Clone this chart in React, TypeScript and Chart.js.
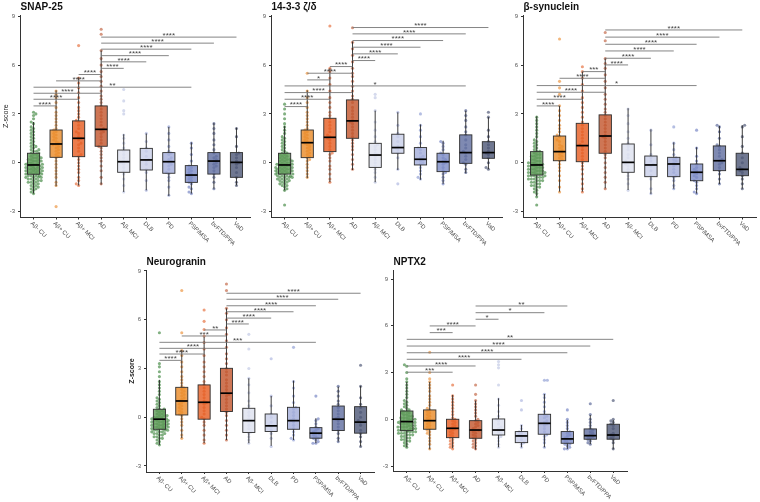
import { useEffect, useRef } from 'react';
import { Chart, registerables } from 'chart.js';

Chart.register(...registerables);
Chart.defaults.font.family = '"Liberation Sans", Arial, sans-serif';

const groups = ['Aβ- CU', 'Aβ+ CU', 'Aβ+ MCI', 'AD', 'Aβ- MCI', 'DLB', 'PD', 'PSP/MSA', 'bvFTD/PPA', 'VaD'];
const yTicks = [-3, 0, 3, 6, 9];

// ---------- SNAP-25 ----------
const snapMed = [-0.14, 1.15, 1.5, 2.05, 0.06, 0.17, 0.06, -0.76, 0.1, 0.02];
const snapQ1 = [-0.71, 0.33, 0.37, 1.01, -0.59, -0.45, -0.65, -1.21, -0.7, -0.9];
const snapQ3 = [0.58, 2.01, 2.57, 3.49, 0.78, 0.88, 0.62, -0.18, 0.62, 0.62];
const snapLo = [-1.9, -1.45, -1.4, -1.35, -1.8, -1.7, -2.05, -1.9, -1.6, -1.4];
const snapHi = [2.5, 4.45, 5.25, 6.9, 1.75, 1.8, 2.2, 1.25, 2.45, 2.15];
const snapPts: number[][] = [
  [-1.9, -1.8, -1.7, -1.6, -1.6, -1.5, -1.5, -1.4, -1.4, -1.3, -1.3, -1.2, -1.2, -1.2, -1.1, -1.1, -1.1, -1, -1, -1, -0.9, -0.9, -0.9, -0.9, -0.8, -0.8, -0.8, -0.8, -0.7, -0.7, -0.7, -0.7, -0.6, -0.6, -0.6, -0.6, -0.5, -0.5, -0.5, -0.5, -0.4, -0.4, -0.4, -0.4, -0.3, -0.3, -0.3, -0.3, -0.2, -0.2, -0.2, -0.1, -0.1, -0.1, -0.1, 0, 0, 0, 0.1, 0.1, 0.1, 0.2, 0.2, 0.2, 0.3, 0.3, 0.3, 0.4, 0.4, 0.5, 0.5, 0.6, 0.6, 0.7, 0.7, 0.8, 0.8, 0.9, 1, 1, 1.1, 1.2, 1.3, 1.4, 1.5, 1.6, 1.7, 1.8, 1.9, 2, 2.1, 2.2, 2.4, 2.5, 2.7, 2.9, 3, 3.1],
  [-2.7, -1.4, -1.2, -0.9, -0.7, -0.5, -0.3, -0.1, 0.1, 0.3, 0.4, 0.5, 0.6, 0.7, 0.8, 0.9, 1, 1.1, 1.1, 1.2, 1.3, 1.4, 1.5, 1.6, 1.7, 1.8, 1.9, 2, 2.1, 2.3, 2.5, 2.7, 2.9, 3.1, 3.4, 3.7, 4, 4.2, 4.4],
  [-1.4, -1.3, -1.1, -0.9, -0.6, -0.4, -0.2, 0, 0.2, 0.4, 0.5, 0.7, 0.9, 1.1, 1.2, 1.4, 1.5, 1.6, 1.8, 1.9, 2.1, 2.3, 2.5, 2.6, 2.8, 3, 3.2, 3.4, 3.7, 4, 4.3, 4.6, 4.9, 5.2, 7.2],
  [-1.3, -0.9, -0.5, -0.2, 0.1, 0.3, 0.5, 0.7, 0.9, 1, 1.2, 1.4, 1.6, 1.8, 1.9, 2, 2.1, 2.3, 2.5, 2.7, 2.9, 3.1, 3.3, 3.5, 3.7, 3.9, 4.1, 4.4, 4.7, 5, 5.3, 5.6, 6, 6.4, 6.9, 7.9, 8.2],
  [-1.8, -1.4, -1, -0.7, -0.5, -0.3, -0.1, 0, 0.1, 0.3, 0.5, 0.7, 0.9, 1.2, 1.5, 1.7, 3, 3.2, 3.8, 4.5],
  [-1.7, -1.1, -0.6, -0.4, -0.1, 0.1, 0.2, 0.4, 0.7, 0.9, 1.3, 1.8],
  [-2, -1.5, -1.1, -0.9, -0.7, -0.6, -0.4, -0.2, -0.1, 0, 0.1, 0.2, 0.3, 0.5, 0.6, 0.7, 1, 1.4, 1.8, 2.2],
  [-1.9, -1.8, -1.6, -1.5, -1.3, -1.2, -1.1, -1, -0.9, -0.8, -0.7, -0.6, -0.5, -0.4, -0.3, -0.2, 0.1, 0.5, 0.9, 1.2],
  [-1.6, -1.2, -0.9, -0.7, -0.5, -0.3, -0.2, -0.1, 0, 0.1, 0.2, 0.3, 0.4, 0.6, 0.8, 1.1, 1.4, 1.8, 2.1, 2.4],
  [-1.4, -1.2, -0.9, -0.6, -0.3, -0.1, 0, 0.1, 0.3, 0.5, 0.6, 1, 1.6, 2.1],
];
const snapSig: [number, number, number, string][] = [
  [1, 2, 3.49, '****'], [1, 3, 3.9, '****'], [1, 4, 4.27, '****'], [1, 8, 4.64, '**'],
  [2, 4, 5.03, '****'], [3, 4, 5.42, '****'], [4, 5, 5.8, '****'], [4, 6, 6.2, '****'],
  [4, 7, 6.58, '****'], [4, 8, 6.98, '****'], [4, 9, 7.35, '****'], [4, 10, 7.72, '****'],
];

// ---------- 14-3-3 ζ/δ ----------
const ywhaMed = [-0.14, 1.23, 1.56, 2.57, 0.47, 0.93, 0.21, 0.06, 0.62, 0.62];
const ywhaQ1 = [-0.7, 0.31, 0.68, 1.5, -0.29, 0.58, -0.14, -0.55, -0.04, 0.27];
const ywhaQ3 = [0.58, 2.01, 2.73, 3.86, 1.19, 1.75, 0.93, 0.58, 1.71, 1.29];
const ywhaLo = [-1.7, -0.95, -1.2, -0.45, -1.2, -0.45, -1.05, -1.3, -0.65, -0.4];
const ywhaHi = [2.25, 4.45, 5.8, 7.45, 3.2, 3.1, 2.35, 1.35, 3.2, 2.8];
const ywhaPts: number[][] = [
  [-2.6, -1.7, -1.6, -1.5, -1.4, -1.4, -1.3, -1.3, -1.2, -1.2, -1.1, -1.1, -1.1, -1, -1, -1, -0.9, -0.9, -0.9, -0.9, -0.8, -0.8, -0.8, -0.8, -0.7, -0.7, -0.7, -0.7, -0.6, -0.6, -0.6, -0.6, -0.5, -0.5, -0.5, -0.5, -0.4, -0.4, -0.4, -0.4, -0.3, -0.3, -0.3, -0.3, -0.2, -0.2, -0.2, -0.1, -0.1, -0.1, -0.1, 0, 0, 0, 0.1, 0.1, 0.1, 0.2, 0.2, 0.2, 0.3, 0.3, 0.4, 0.4, 0.5, 0.5, 0.6, 0.6, 0.7, 0.8, 0.9, 1, 1.1, 1.2, 1.3, 1.4, 1.5, 1.6, 1.8, 2, 2.2, 2.4, 2.7, 3, 3.3, 3.6],
  [-0.9, -0.7, -0.5, -0.3, -0.1, 0.1, 0.2, 0.3, 0.4, 0.5, 0.6, 0.7, 0.8, 0.9, 1, 1.1, 1.2, 1.2, 1.3, 1.4, 1.5, 1.6, 1.7, 1.8, 1.9, 2, 2.1, 2.3, 2.5, 2.7, 2.9, 3.1, 3.4, 3.7, 4, 4.4, 5.5],
  [-1.2, -1, -0.7, -0.4, -0.2, 0.1, 0.3, 0.5, 0.6, 0.8, 1, 1.2, 1.4, 1.5, 1.6, 1.7, 1.9, 2.1, 2.3, 2.5, 2.7, 2.9, 3.1, 3.4, 3.7, 4, 4.4, 4.8, 5.2, 5.6, 5.8, 8.4],
  [-0.4, -0.1, 0.2, 0.5, 0.8, 1, 1.2, 1.4, 1.6, 1.8, 2, 2.2, 2.4, 2.5, 2.6, 2.8, 3, 3.2, 3.4, 3.7, 3.9, 4.1, 4.4, 4.7, 5, 5.3, 5.5, 5.8, 6.2, 6.6, 7, 7.4, 8.3],
  [-1.2, -0.9, -0.6, -0.4, -0.2, 0, 0.2, 0.4, 0.5, 0.6, 0.8, 1, 1.1, 1.3, 1.6, 2, 2.5, 3.2, 4, 4.2],
  [-1.3, -0.4, 0.3, 0.6, 0.8, 0.9, 1, 1.3, 1.6, 1.8, 2.3, 3.1],
  [-1, -0.9, -0.7, -0.5, -0.3, -0.1, 0, 0.1, 0.2, 0.3, 0.4, 0.6, 0.8, 0.9, 1.2, 1.6, 2, 2.3, 3],
  [-1.3, -1.1, -0.9, -0.7, -0.6, -0.5, -0.3, -0.1, 0, 0.1, 0.2, 0.3, 0.5, 0.6, 0.8, 1, 1.2, 1.3],
  [-0.6, -0.4, -0.1, 0, 0.2, 0.4, 0.6, 0.7, 0.9, 1.1, 1.4, 1.7, 1.9, 2.2, 2.6, 2.9, 3.2],
  [-0.4, -0.3, 0, 0.3, 0.5, 0.6, 0.7, 0.9, 1.1, 1.3, 1.6, 2, 2.8, 3.1],
];
const ywhaSig: [number, number, number, string][] = [
  [1, 2, 3.45, '****'], [1, 3, 3.9, '****'], [1, 4, 4.31, '****'], [1, 9, 4.72, '*'],
  [2, 3, 5.09, '*'], [2, 4, 5.5, '****'], [3, 4, 5.91, '****'], [4, 5, 6.28, '****'],
  [4, 6, 6.69, '****'], [4, 7, 7.1, '****'], [4, 8, 7.51, '****'], [4, 9, 7.92, '****'], [4, 10, 8.31, '****'],
];

// ---------- β-synuclein ----------
const bsynMed = [-0.14, 0.68, 1.05, 1.64, 0.02, -0.14, -0.08, -0.59, 0.12, -0.41];
const bsynQ1 = [-0.76, 0.12, 0.06, 0.58, -0.59, -0.86, -0.86, -1.11, -0.49, -0.8];
const bsynQ3 = [0.68, 1.64, 2.42, 2.94, 1.15, 0.41, 0.33, -0.08, 1.03, 0.58];
const bsynLo = [-2.07, -1.78, -1.78, -1.58, -1.68, -1.93, -1.6, -1.9, -1.31, -1.6];
const bsynHi = [2.85, 3.49, 5.6, 6.42, 3.35, 2.05, 1.25, 0.95, 2.26, 2.3];
const bsynPts: number[][] = [
  [-2.6, -2.1, -1.9, -1.8, -1.7, -1.6, -1.5, -1.5, -1.4, -1.4, -1.3, -1.3, -1.2, -1.2, -1.1, -1.1, -1.1, -1, -1, -1, -0.9, -0.9, -0.9, -0.8, -0.8, -0.8, -0.8, -0.7, -0.7, -0.7, -0.6, -0.6, -0.6, -0.6, -0.5, -0.5, -0.5, -0.4, -0.4, -0.4, -0.3, -0.3, -0.3, -0.2, -0.2, -0.2, -0.1, -0.1, -0.1, 0, 0, 0, 0.1, 0.1, 0.2, 0.2, 0.3, 0.3, 0.4, 0.4, 0.5, 0.5, 0.6, 0.7, 0.7, 0.8, 0.9, 1, 1.1, 1.2, 1.3, 1.4, 1.6, 1.8, 2, 2.2, 2.4, 2.6, 2.8],
  [-1.8, -1.5, -1.1, -0.8, -0.5, -0.3, -0.1, 0.1, 0.2, 0.3, 0.4, 0.5, 0.6, 0.7, 0.8, 0.9, 1, 1.1, 1.3, 1.4, 1.6, 1.7, 1.9, 2.1, 2.3, 2.6, 2.9, 3.2, 3.5, 4.2, 4.6, 5, 7.6],
  [-1.8, -1.6, -1.3, -1, -0.7, -0.4, -0.2, 0, 0.2, 0.4, 0.6, 0.8, 1, 1.1, 1.3, 1.5, 1.7, 1.9, 2.1, 2.3, 2.5, 2.8, 3.1, 3.4, 3.7, 4, 4.4, 4.8, 5.2, 5.6, 5.9],
  [-1.6, -1.2, -0.9, -0.6, -0.3, 0, 0.3, 0.5, 0.7, 0.9, 1.1, 1.3, 1.5, 1.6, 1.7, 1.9, 2.1, 2.3, 2.5, 2.7, 2.9, 3.1, 3.3, 3.6, 3.9, 4.2, 4.6, 5, 5.4, 5.8, 6.1, 6.4, 7.5, 8],
  [-1.7, -1.3, -1, -0.8, -0.6, -0.4, -0.2, -0.1, 0, 0.1, 0.3, 0.5, 0.8, 1, 1.2, 1.5, 1.9, 2.4, 2.9, 3.3],
  [-1.9, -1.6, -1, -0.8, -0.5, -0.2, -0.1, 0.1, 0.3, 0.5, 1.1, 2],
  [-1.6, -1.4, -1.1, -0.9, -0.8, -0.6, -0.4, -0.2, -0.1, 0, 0.1, 0.2, 0.3, 0.5, 0.8, 1.2, 2.2],
  [-1.9, -1.8, -1.6, -1.4, -1.2, -1.1, -0.9, -0.8, -0.7, -0.6, -0.5, -0.4, -0.3, -0.1, 0.1, 0.4, 0.9, 2],
  [-1.3, -1, -0.7, -0.5, -0.3, -0.1, 0, 0.1, 0.2, 0.4, 0.6, 0.8, 1, 1.1, 1.5, 1.9, 2.2, 2.3],
  [-1.6, -1.3, -1, -0.8, -0.6, -0.5, -0.4, -0.3, 0, 0.3, 0.6, 1, 1.6, 2.2, 2.3],
];
const bsynSig: [number, number, number, string][] = [
  [1, 2, 3.49, '****'], [1, 3, 3.9, '****'], [1, 4, 4.33, '****'], [1, 8, 4.74, '*'],
  [2, 4, 5.19, '****'], [3, 4, 5.6, '***'], [4, 5, 6.01, '****'], [4, 6, 6.42, '****'],
  [4, 7, 6.87, '****'], [4, 8, 7.28, '****'], [4, 9, 7.72, '****'], [4, 10, 8.16, '****'],
];

// ---------- Neurogranin ----------
const nrgnMed = [-0.12, 1.0, 0.92, 1.48, -0.21, -0.53, -0.21, -0.98, -0.12, -0.3];
const nrgnQ1 = [-0.74, 0.14, -0.12, 0.35, -0.94, -0.88, -0.74, -1.29, -0.82, -0.98];
const nrgnQ3 = [0.49, 1.84, 1.99, 3.01, 0.55, 0.2, 0.61, -0.64, 0.69, 0.65];
const nrgnLo = [-1.7, -1.29, -1.6, -1.4, -1.6, -1.76, -1.4, -1.6, -1.5, -1.8];
const nrgnHi = [2.3, 4.14, 4.96, 6.7, 2.4, 1.31, 2.25, -0.06, 1.88, 1.93];
const nrgnPts: number[][] = [
  [-1.7, -1.6, -1.5, -1.4, -1.3, -1.3, -1.2, -1.2, -1.1, -1.1, -1, -1, -1, -0.9, -0.9, -0.9, -0.8, -0.8, -0.8, -0.8, -0.7, -0.7, -0.7, -0.7, -0.6, -0.6, -0.6, -0.6, -0.5, -0.5, -0.5, -0.5, -0.4, -0.4, -0.4, -0.4, -0.3, -0.3, -0.3, -0.3, -0.2, -0.2, -0.2, -0.2, -0.1, -0.1, -0.1, 0, 0, 0, 0.1, 0.1, 0.1, 0.2, 0.2, 0.3, 0.3, 0.4, 0.4, 0.5, 0.5, 0.6, 0.7, 0.8, 0.9, 1, 1.1, 1.2, 1.4, 1.6, 1.8, 2, 2.2, 2.5, 2.8, 3.1, 3.3, 5.2],
  [-1.3, -1.1, -0.8, -0.5, -0.3, -0.1, 0.1, 0.2, 0.3, 0.4, 0.5, 0.6, 0.7, 0.8, 0.9, 1, 1, 1.1, 1.2, 1.3, 1.4, 1.5, 1.6, 1.7, 1.8, 1.9, 2.1, 2.3, 2.5, 2.8, 3.1, 3.4, 3.8, 4.1, 5.2, 7.8],
  [-1.6, -1.4, -1.1, -0.8, -0.5, -0.3, -0.1, 0, 0.2, 0.4, 0.6, 0.8, 0.9, 1, 1.2, 1.4, 1.6, 1.8, 2, 2.2, 2.5, 2.8, 3.1, 3.4, 3.8, 4.2, 4.6, 5, 5.4, 5.9, 6.6],
  [-1.4, -1.1, -0.8, -0.5, -0.2, 0.1, 0.3, 0.5, 0.7, 0.9, 1.1, 1.3, 1.4, 1.5, 1.7, 1.9, 2.1, 2.3, 2.6, 2.8, 3, 3.3, 3.6, 3.9, 4.3, 4.7, 5.1, 5.5, 6, 6.4, 6.7, 7.8, 8.2],
  [-1.6, -1.4, -1.2, -1, -0.9, -0.7, -0.5, -0.3, -0.2, -0.1, 0.1, 0.3, 0.5, 0.7, 1, 1.5, 2, 2.4, 3, 4.2, 5.1],
  [-1.8, -1.3, -1, -0.8, -0.6, -0.5, -0.3, 0, 0.2, 0.7, 1.3, 3.6],
  [-1.4, -1.3, -1.1, -0.9, -0.7, -0.5, -0.3, -0.2, -0.1, 0.1, 0.3, 0.5, 0.6, 0.9, 1.3, 1.8, 2.2, 4.3],
  [-1.6, -1.6, -1.5, -1.4, -1.3, -1.3, -1.2, -1.1, -1, -1, -0.9, -0.8, -0.7, -0.6, -0.4, -0.2, -0.1, 1.3],
  [-1.5, -1.3, -1, -0.8, -0.6, -0.4, -0.2, -0.1, 0, 0.2, 0.4, 0.6, 0.8, 1, 1.3, 1.6, 1.9],
  [-1.8, -1.5, -1.2, -1, -0.8, -0.5, -0.3, -0.2, 0, 0.3, 0.6, 0.8, 1.2, 1.9, 3.2],
];
const nrgnSig: [number, number, number, string][] = [
  [1, 2, 3.5, '****'], [1, 3, 3.89, '****'], [1, 4, 4.24, '****'], [1, 8, 4.61, '***'],
  [2, 4, 5.0, '***'], [3, 4, 5.37, '**'], [4, 5, 5.74, '****'], [4, 6, 6.1, '****'],
  [4, 7, 6.49, '****'], [4, 8, 6.86, '****'], [4, 9, 7.26, '****'], [4, 10, 7.63, '****'],
];

// ---------- NPTX2 ----------
const nptxMed = [-0.15, -0.09, -0.58, -0.69, -0.69, -1.07, -0.26, -1.26, -1.05, -1.01];
const nptxQ1 = [-0.73, -0.64, -1.18, -1.22, -1.01, -1.5, -0.96, -1.54, -1.28, -1.28];
const nptxQ3 = [0.53, 0.6, 0.0, -0.09, 0.02, -0.79, 0.32, -0.79, -0.62, -0.32];
const nptxLo = [-1.8, -1.93, -1.86, -1.95, -1.8, -1.8, -1.8, -1.9, -1.6, -1.93];
const nptxHi = [2.4, 2.4, 1.56, 1.2, 1.35, -0.37, 1.62, -0.04, 0.28, -0.04];
const nptxPts: number[][] = [
  [-1.8, -1.7, -1.6, -1.5, -1.4, -1.4, -1.3, -1.3, -1.2, -1.2, -1.1, -1.1, -1, -1, -1, -0.9, -0.9, -0.9, -0.8, -0.8, -0.8, -0.8, -0.7, -0.7, -0.7, -0.7, -0.6, -0.6, -0.6, -0.5, -0.5, -0.5, -0.5, -0.4, -0.4, -0.4, -0.3, -0.3, -0.3, -0.2, -0.2, -0.2, -0.2, -0.1, -0.1, -0.1, 0, 0, 0, 0.1, 0.1, 0.1, 0.2, 0.2, 0.3, 0.3, 0.4, 0.4, 0.5, 0.5, 0.6, 0.6, 0.7, 0.8, 0.9, 1, 1.1, 1.2, 1.4, 1.6, 1.8, 2, 2.2, 2.4, 2.6, 3, 3.4, 3.5],
  [-1.9, -1.6, -1.4, -1.2, -1, -0.9, -0.8, -0.7, -0.6, -0.5, -0.4, -0.3, -0.2, -0.1, 0, 0.1, 0.2, 0.3, 0.4, 0.5, 0.6, 0.7, 0.9, 1.1, 1.3, 1.5, 1.8, 2, 2.2, 2.4, 2.6, 3, 4.3],
  [-1.9, -1.8, -1.7, -1.6, -1.5, -1.4, -1.3, -1.2, -1.1, -1, -0.9, -0.8, -0.7, -0.6, -0.6, -0.5, -0.4, -0.3, -0.2, -0.1, 0, 0.1, 0.3, 0.5, 0.7, 0.9, 1.1, 1.3, 1.5, 2.2],
  [-1.9, -1.8, -1.7, -1.6, -1.5, -1.4, -1.3, -1.2, -1.1, -1, -0.9, -0.8, -0.7, -0.7, -0.6, -0.5, -0.4, -0.3, -0.2, -0.1, 0, 0.2, 0.4, 0.6, 0.8, 1, 1.2, 1.6, 2.2],
  [-1.8, -1.6, -1.4, -1.2, -1.1, -1, -0.9, -0.8, -0.7, -0.6, -0.5, -0.3, -0.1, 0, 0.2, 0.5, 0.9, 1.3, 2.2, 3.3, 3.5, 3.7],
  [-1.8, -1.6, -1.5, -1.3, -1.1, -1, -0.9, -0.8, -0.6, -0.4, 0.6, 1.2],
  [-1.8, -1.5, -1.3, -1.1, -1, -0.8, -0.6, -0.4, -0.3, -0.2, -0.1, 0.1, 0.2, 0.3, 0.5, 0.8, 1.1, 1.4, 1.6, 2.5, 2.5],
  [-1.9, -1.9, -1.8, -1.7, -1.6, -1.6, -1.5, -1.4, -1.3, -1.3, -1.2, -1.1, -1, -0.9, -0.8, -0.6, -0.4, -0.2, 0, 0.6],
  [-1.6, -1.5, -1.4, -1.3, -1.2, -1.1, -1.1, -1, -0.9, -0.8, -0.7, -0.6, -0.4, -0.2, 0, 0.3, 1],
  [-1.9, -1.5, -1.3, -1.2, -1.1, -1, -0.9, -0.6, -0.4, -0.3, -0.2, -0.1, 0, 1.2],
];
const nptxSig: [number, number, number, string][] = [
  [1, 3, 3.02, '***'], [1, 4, 3.42, '****'], [1, 6, 3.85, '****'], [1, 8, 4.27, '****'],
  [1, 9, 4.7, '****'], [1, 10, 5.13, '**'], [2, 3, 5.56, '***'], [2, 4, 5.99, '****'],
  [4, 5, 6.42, '*'], [4, 7, 6.84, '*'], [4, 8, 7.27, '**'],
];

// ---------- styles ----------
const boxFill = ['#5e9a58', '#ea8a26', '#e65b1f', '#c2542b', '#dde1ef', '#c8cee8', '#a2add9', '#7c8bc6', '#5f6d9f', '#4c5676'];
const pointFill = ['rgba(52,128,52,0.62)', 'rgba(232,130,30,0.58)', 'rgba(226,88,30,0.58)', 'rgba(185,76,38,0.58)', 'rgba(190,198,228,0.65)', 'rgba(170,180,222,0.65)', 'rgba(140,155,210,0.65)', 'rgba(112,128,194,0.65)', 'rgba(86,100,150,0.65)', 'rgba(70,80,112,0.65)'];

type Sig = [number, number, number, string];
type PanelCfg = {
  title: string; med: number[]; q1: number[]; q3: number[]; lo: number[]; hi: number[];
  pts: number[][]; sig: Sig[];
  left: number; top: number; width: number; height: number; pt: number; xh: number;
  ymin: number; ymax: number; yTitle: boolean; yTitleBold: boolean;
};

const panels: PanelCfg[] = [
  { title: 'SNAP-25', med: snapMed, q1: snapQ1, q3: snapQ3, lo: snapLo, hi: snapHi, pts: snapPts, sig: snapSig,
    left: 0, top: 0, width: 254, height: 255, pt: 15, xh: 37.5, ymin: -3.37, ymax: 9.08, yTitle: true, yTitleBold: false },
  { title: '14-3-3 ζ/δ', med: ywhaMed, q1: ywhaQ1, q3: ywhaQ3, lo: ywhaLo, hi: ywhaHi, pts: ywhaPts, sig: ywhaSig,
    left: 251, top: 0, width: 255, height: 255, pt: 15, xh: 37.5, ymin: -3.37, ymax: 9.08, yTitle: false, yTitleBold: false },
  { title: 'β-synuclein', med: bsynMed, q1: bsynQ1, q3: bsynQ3, lo: bsynLo, hi: bsynHi, pts: bsynPts, sig: bsynSig,
    left: 503, top: 0, width: 257, height: 255, pt: 15, xh: 37.5, ymin: -3.37, ymax: 9.08, yTitle: false, yTitleBold: false },
  { title: 'Neurogranin', med: nrgnMed, q1: nrgnQ1, q3: nrgnQ3, lo: nrgnLo, hi: nrgnHi, pts: nrgnPts, sig: nrgnSig,
    left: 126, top: 255, width: 252, height: 247, pt: 15, xh: 30, ymin: -3.37, ymax: 9.06, yTitle: true, yTitleBold: true },
  { title: 'NPTX2', med: nptxMed, q1: nptxQ1, q3: nptxQ3, lo: nptxLo, hi: nptxHi, pts: nptxPts, sig: nptxSig,
    left: 373, top: 255, width: 258, height: 247, pt: 15, xh: 31, ymin: -3.32, ymax: 9.58, yTitle: false, yTitleBold: false },
];

const Y_AXIS_W = 20;
const FONT = '"Liberation Sans", Arial, sans-serif';

// beeswarm layout: horizontal offsets (in x units) so points do not overlap
function swarm(vals: number[], pxX: number, pxY: number, dmin: number, maxOff: number): number[] {
  const order = vals.map((_, i) => i).sort((a, b) => vals[a] - vals[b]);
  const placed: { x: number; y: number }[] = [];
  const out = new Array(vals.length).fill(0);
  let flip = 1;
  for (const i of order) {
    const y = vals[i] * pxY;
    let best = 0;
    let bestScore = -1;
    let done = false;
    for (let k = 0; k <= 40 && !done; k++) {
      const cands = k === 0 ? [0] : [k * 0.6 * flip, -k * 0.6 * flip];
      for (const c of cands) {
        if (Math.abs(c) > maxOff) continue;
        let md = Infinity;
        for (const p of placed) {
          const d = Math.hypot(p.x - c, p.y - y);
          if (d < md) md = d;
        }
        if (md >= dmin) { best = c; done = true; break; }
        if (md > bestScore) { bestScore = md; best = c; }
      }
    }
    flip = -flip;
    placed.push({ x: best, y });
    out[i] = best / pxX;
  }
  return out;
}

function makePlugin(p: PanelCfg) {
  return {
    id: 'boxesAndSig',
    afterDatasetsDraw(chart: any) {
      const { ctx, scales } = chart;
      const x = scales.x;
      const y = scales.y;
      const hw = x.getPixelForValue(1.27) - x.getPixelForValue(1);
      ctx.save();
      for (let i = 0; i < groups.length; i++) {
        const cx = x.getPixelForValue(i + 1);
        const yq1 = y.getPixelForValue(p.q1[i]);
        const yq3 = y.getPixelForValue(p.q3[i]);
        const ymed = y.getPixelForValue(p.med[i]);
        const ylo = y.getPixelForValue(p.lo[i]);
        const yhi = y.getPixelForValue(p.hi[i]);
        ctx.strokeStyle = '#262626';
        ctx.lineWidth = 0.9;
        ctx.beginPath();
        ctx.moveTo(cx, ylo); ctx.lineTo(cx, yq1);
        ctx.moveTo(cx, yq3); ctx.lineTo(cx, yhi);
        ctx.stroke();
        ctx.globalAlpha = 0.8;
        ctx.fillStyle = boxFill[i];
        ctx.fillRect(cx - hw, yq3, 2 * hw, yq1 - yq3);
        ctx.globalAlpha = 1;
        ctx.strokeStyle = '#2e2e2e';
        ctx.lineWidth = 0.9;
        ctx.strokeRect(cx - hw, yq3, 2 * hw, yq1 - yq3);
        ctx.strokeStyle = '#000';
        ctx.lineWidth = 1.7;
        ctx.beginPath();
        ctx.moveTo(cx - hw, ymed); ctx.lineTo(cx + hw, ymed);
        ctx.stroke();
      }
      // significance brackets
      ctx.font = `8px ${FONT}`;
      ctx.textAlign = 'center';
      ctx.textBaseline = 'alphabetic';
      for (const [a, b, v, lab] of p.sig) {
        const x1 = x.getPixelForValue(a);
        const x2 = x.getPixelForValue(b);
        const yy = y.getPixelForValue(v);
        ctx.strokeStyle = '#777';
        ctx.lineWidth = 0.9;
        ctx.beginPath();
        ctx.moveTo(x1, yy); ctx.lineTo(x2, yy);
        ctx.stroke();
        ctx.fillStyle = '#444';
        ctx.fillText(lab, (x1 + x2) / 2, yy + 0.8);
      }
      ctx.restore();
    },
    afterDraw(chart: any) {
      const { ctx, chartArea, scales } = chart;
      const x = scales.x;
      ctx.save();
      ctx.fillStyle = '#111';
      ctx.font = `bold 10px ${FONT}`;
      ctx.textAlign = 'left';
      ctx.textBaseline = 'alphabetic';
      ctx.fillText(p.title, chartArea.left + 0.5, chartArea.top - 5);
      ctx.fillStyle = '#4d4d4d';
      ctx.font = `6px ${FONT}`;
      ctx.textBaseline = 'middle';
      for (let i = 0; i < groups.length; i++) {
        const cx = x.getPixelForValue(i + 1);
        ctx.save();
        ctx.translate(cx - 2, chartArea.bottom + 5);
        ctx.rotate(Math.PI / 4);
        ctx.fillText(groups[i], 0, 0);
        ctx.restore();
      }
      ctx.restore();
    },
  };
}

function Panel({ p }: { p: PanelCfg }) {
  const ref = useRef<HTMLCanvasElement | null>(null);
  useEffect(() => {
    if (!ref.current) return;
    const pxX = (p.width - Y_AXIS_W) / 10.2;
    const pxY = (p.height - p.pt - p.xh) / (p.ymax - p.ymin);
    const datasets = p.pts.map((vals, i) => {
      const offs = swarm(vals, pxX, pxY, 2.8, 9);
      return {
        label: groups[i],
        data: vals.map((v, j) => ({ x: i + 1 + offs[j], y: v })),
        pointRadius: 1.55,
        pointBackgroundColor: pointFill[i],
        pointBorderWidth: 0,
        showLine: false,
      };
    });
    const chart = new Chart(ref.current, {
      type: 'scatter',
      data: { datasets },
      options: {
        responsive: false,
        animation: false,
        devicePixelRatio: 1,
        events: [],
        layout: { padding: { top: p.pt, left: 0, right: 0, bottom: 0 } },
        plugins: { legend: { display: false }, tooltip: { enabled: false }, title: { display: false } },
        scales: {
          x: {
            type: 'linear', min: 0.4, max: 10.6,
            grid: { display: true, drawOnChartArea: false, drawTicks: true, tickLength: 2, color: '#333' },
            border: { display: true, color: '#333', width: 1 },
            ticks: { display: false },
            afterBuildTicks: (s: any) => { s.ticks = groups.map((_, i) => ({ value: i + 1 })); },
            afterFit: (s: any) => { s.height = p.xh; },
          },
          y: {
            type: 'linear', min: p.ymin, max: p.ymax,
            grid: { display: true, drawOnChartArea: false, drawTicks: true, tickLength: 2, color: '#333' },
            border: { display: true, color: '#333', width: 1 },
            ticks: { color: '#555', font: { size: 6 }, padding: 3, autoSkip: false },
            afterBuildTicks: (s: any) => { s.ticks = yTicks.map((v) => ({ value: v })); },
            afterFit: (s: any) => { s.width = Y_AXIS_W; },
            title: {
              display: p.yTitle, text: 'Z-score', color: '#222',
              font: { size: 7, weight: p.yTitleBold ? 'bold' : 'normal' },
              padding: { top: 2, bottom: 0 },
            },
          },
        },
      } as any,
      plugins: [makePlugin(p)],
    });
    return () => chart.destroy();
  }, [p]);
  return (
    <canvas
      ref={ref}
      width={p.width}
      height={p.height}
      style={{ position: 'absolute', left: p.left, top: p.top, width: p.width, height: p.height }}
    />
  );
}

export default function App() {
  return (
    <div style={{ position: 'absolute', left: 0, top: 0, width: 760, height: 502, background: '#fff', overflow: 'hidden' }}>
      {panels.map((p) => (
        <Panel key={p.title} p={p} />
      ))}
    </div>
  );
}
